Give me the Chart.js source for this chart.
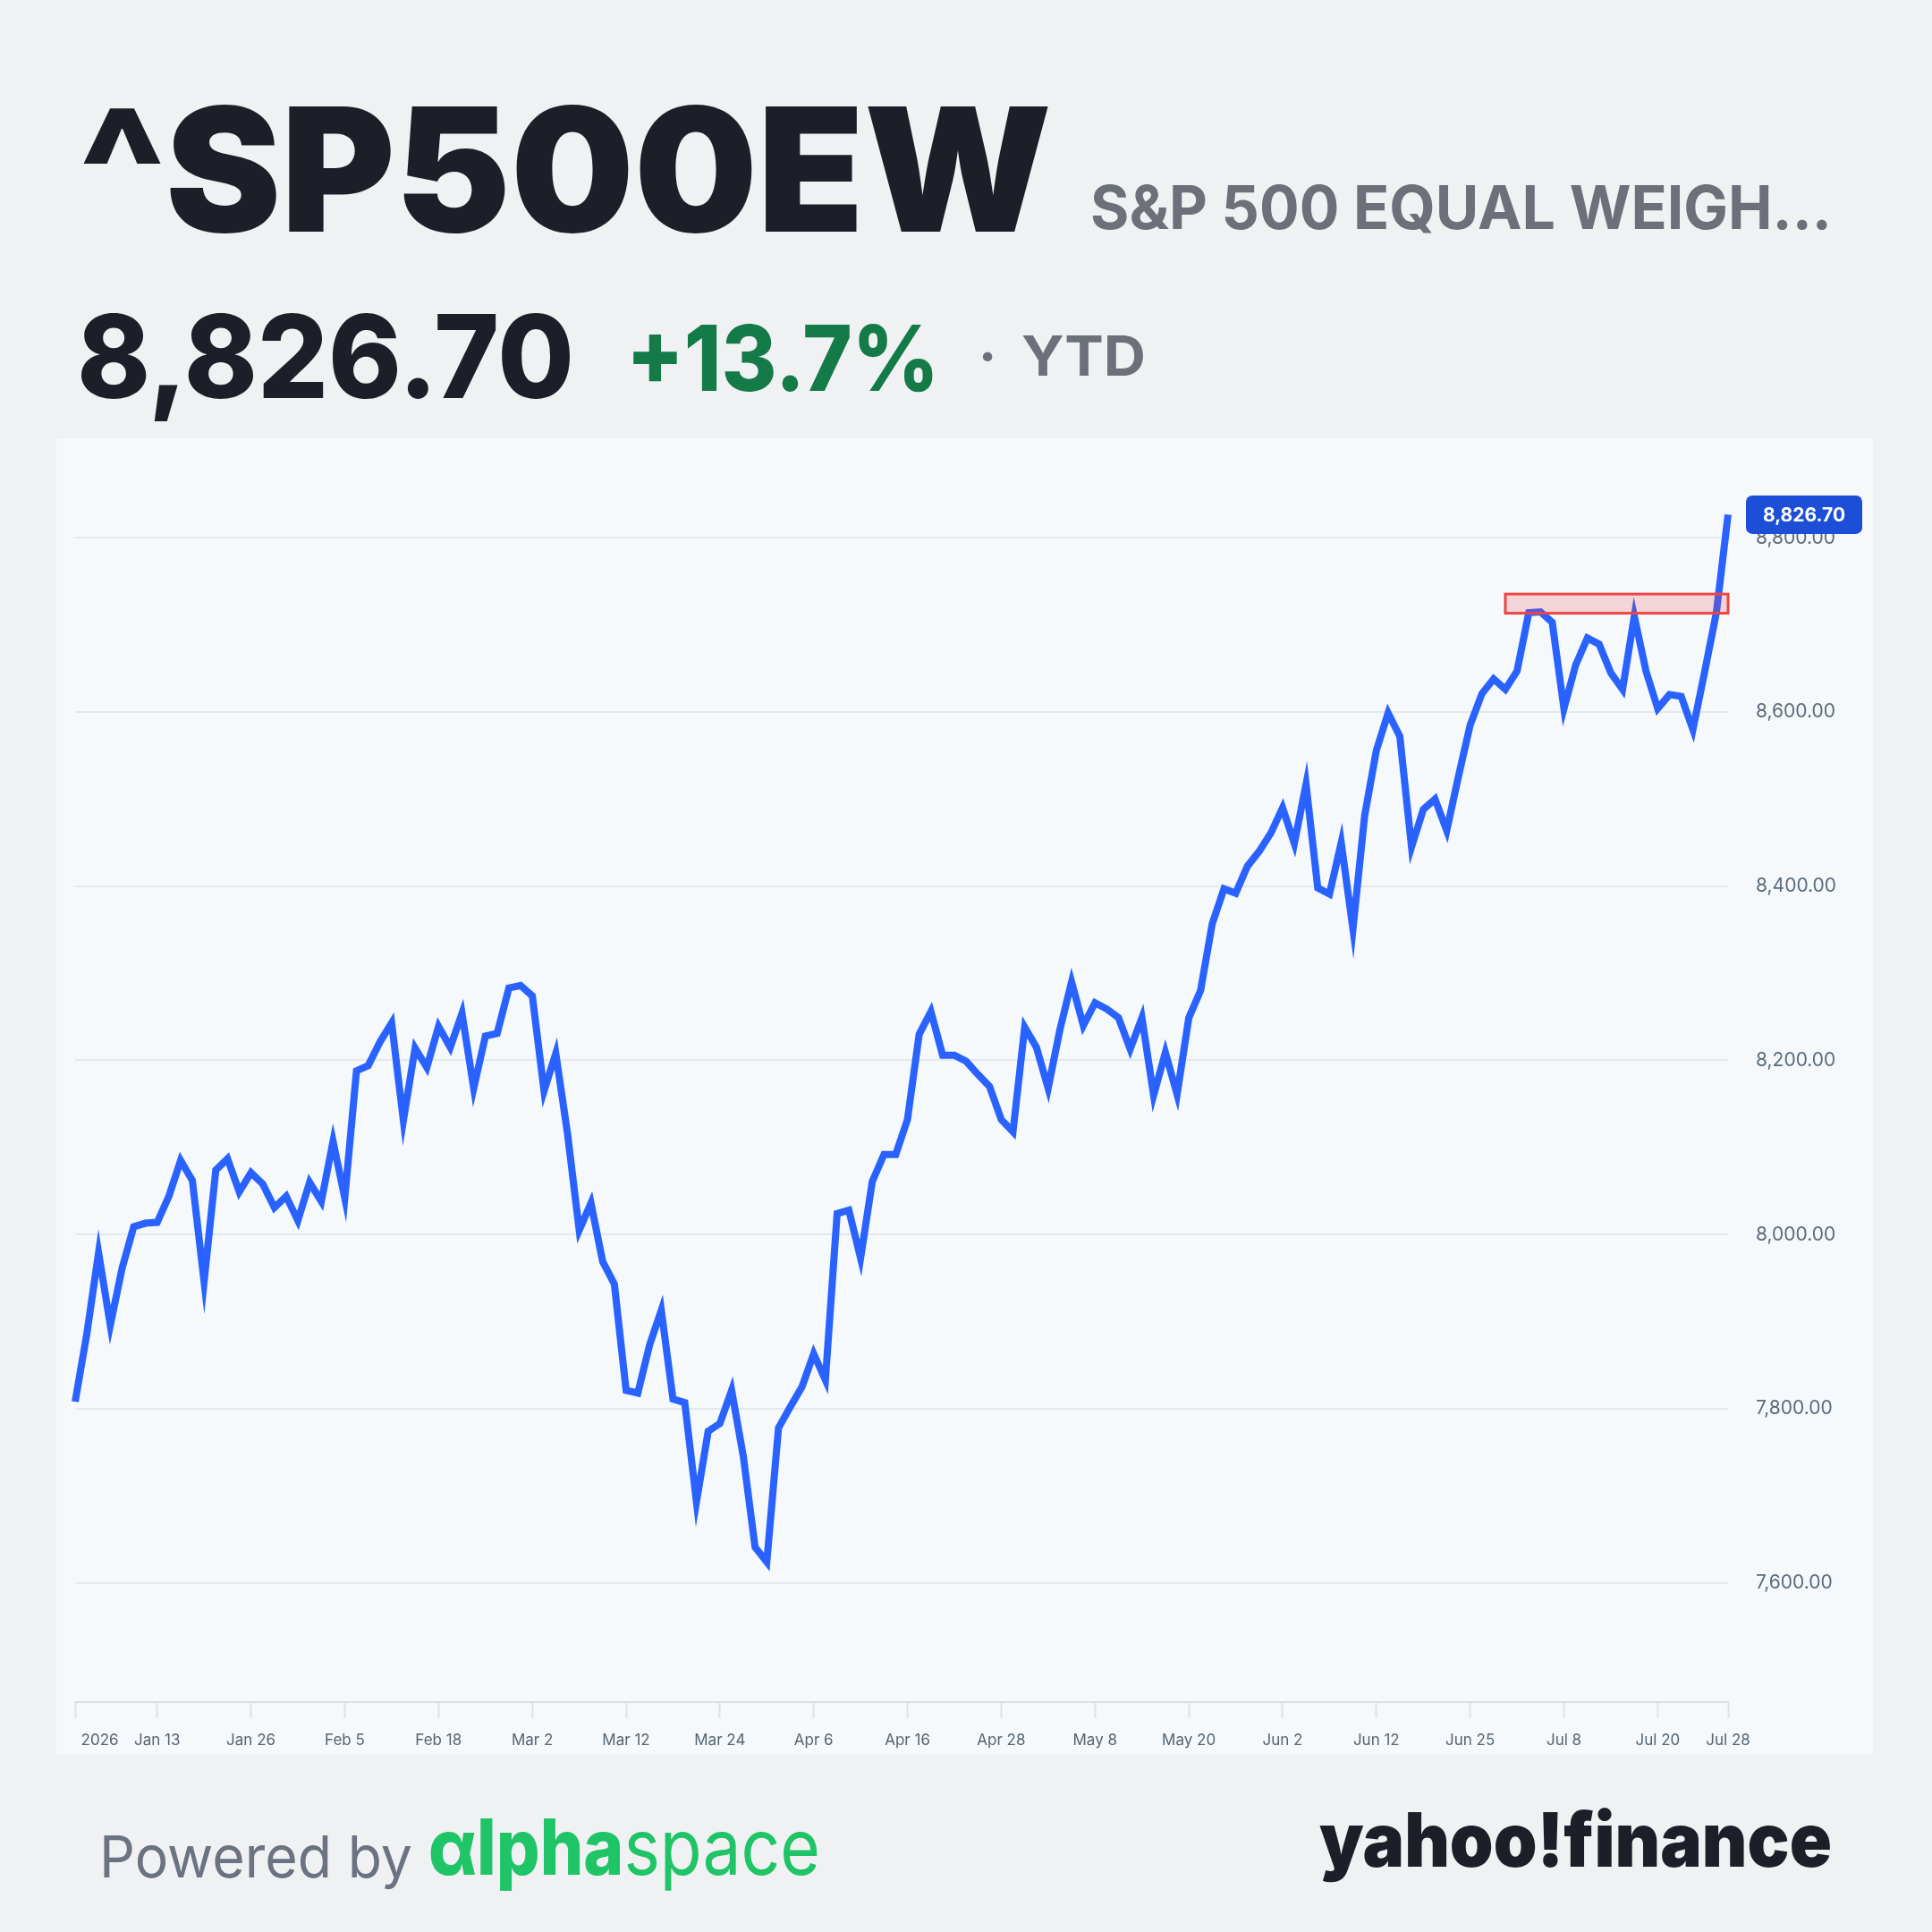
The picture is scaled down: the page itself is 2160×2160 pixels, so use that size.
<!DOCTYPE html>
<html>
<head>
<meta charset="utf-8">
<script src="https://cdn.jsdelivr.net/npm/chart.js@4.4.1/dist/chart.umd.min.js"></script>
<style>
  html, body { margin: 0; padding: 0; background: #f0f1f3; }
  #page { position: relative; width: 2160px; height: 2160px; overflow: hidden; background: #f0f1f3; }
  #panel { position: absolute; left: 63px; top: 490px; width: 2031px; height: 1472px; background: #f5f9fc; }
  #head { position: absolute; left: 0; top: 0; font-family: Inter, "Noto Sans", sans-serif; }
</style>
</head>
<body>
<div id="page">
  <svg id="head" width="2160" height="2160">
    <text x="88" y="259" font-size="192" font-weight="900" fill="#1c1f27" textLength="1088" lengthAdjust="spacingAndGlyphs">^SP500EW</text>
    <text x="1219" y="256" font-size="67" font-weight="700" fill="#6b7079" textLength="829" lengthAdjust="spacingAndGlyphs">S&amp;P 500 EQUAL WEIGH...</text>
    <text x="86" y="445" font-size="129" font-weight="800" fill="#1c1f27" textLength="556" lengthAdjust="spacingAndGlyphs">8,826.70</text>
    <text x="700" y="437" font-size="102" font-weight="800" fill="#137a48" textLength="350" lengthAdjust="spacingAndGlyphs">+13.7%</text>
    <text x="1104" y="420" font-size="62" font-weight="700" fill="#6b7079" text-anchor="middle">·</text>
    <text x="1142" y="420" font-size="62" font-weight="700" fill="#6b7079" textLength="139" lengthAdjust="spacingAndGlyphs">YTD</text>
    <text x="111" y="2099" font-size="65" font-weight="400" fill="#6b7280" textLength="350" lengthAdjust="spacingAndGlyphs">Powered by</text>
    <text x="479" y="2096" font-size="87" fill="#1fc467" textLength="438" lengthAdjust="spacingAndGlyphs"><tspan font-weight="800">αlpha</tspan><tspan font-weight="400">space</tspan></text>
    <text x="1475" y="2087" font-size="84" font-weight="900" fill="#1c1f27" textLength="573" lengthAdjust="spacingAndGlyphs">yahoo!finance</text>
  </svg>
  <div id="panel"><canvas id="priceChart" width="2031" height="1472"></canvas></div>
</div>
<script>
// trading calendar
var firstDay = '2026-01-02';
var lastDay = '2026-07-28';
var holidays = ['2026-01-19', '2026-02-16', '2026-04-03', '2026-05-25', '2026-06-19', '2026-07-03'];

// daily closes
var closes = [
  7808, 7886, 7979, 7896, 7961, 8009, 8013, 8014, 8044, 8085,
  8062, 7946, 8074, 8087, 8049, 8071, 8058, 8031, 8044, 8016,
  8060, 8038, 8107, 8042, 8188, 8194, 8221, 8243, 8131, 8214,
  8192, 8239, 8215, 8254, 8168, 8228, 8231, 8283, 8286, 8274,
  8165, 8208, 8116, 8005, 8036, 7969, 7943, 7821, 7818, 7873,
  7913, 7811, 7807, 7693, 7774, 7783, 7821, 7745, 7641, 7624,
  7778, 7802, 7825, 7863, 7833, 8024, 8028, 7973, 8061, 8092,
  8092, 8132, 8230, 8256, 8206, 8206, 8199, 8184, 8170, 8132,
  8118, 8238, 8215, 8168, 8235, 8290, 8240, 8266, 8259, 8249,
  8213, 8249, 8160, 8209, 8161, 8249, 8280, 8357, 8397, 8392,
  8423, 8440, 8461, 8490, 8449, 8517, 8398, 8391, 8450, 8351,
  8481, 8556, 8599, 8572, 8445, 8488, 8500, 8464, 8526, 8585,
  8621, 8638, 8626, 8647, 8714, 8715, 8703, 8604, 8654, 8685,
  8678, 8645, 8626, 8710, 8647, 8604, 8620, 8618, 8580, 8646,
  8714, 8826.70
];

var tickDates = ['2026-01-02', '2026-01-13', '2026-01-26', '2026-02-05', '2026-02-18', '2026-03-02',
  '2026-03-12', '2026-03-24', '2026-04-06', '2026-04-16', '2026-04-28', '2026-05-08', '2026-05-20',
  '2026-06-02', '2026-06-12', '2026-06-25', '2026-07-08', '2026-07-20', '2026-07-28'];
var yTicks = [7600, 7800, 8000, 8200, 8400, 8600, 8800];
var yMin = 7463;
var yMax = 8880.5;

// red resistance zone
var zoneStart = '2026-06-30';
var zoneEnd = '2026-07-28';
var zoneLow = 8713.5;
var zoneHigh = 8735.5;

var months = ['Jan', 'Feb', 'Mar', 'Apr', 'May', 'Jun', 'Jul', 'Aug', 'Sep', 'Oct', 'Nov', 'Dec'];

var dates = [];
var d = new Date(firstDay + 'T00:00:00Z');
var end = new Date(lastDay + 'T00:00:00Z');
while (d <= end) {
  var iso = d.toISOString().slice(0, 10);
  var wd = d.getUTCDay();
  if (wd !== 0 && wd !== 6 && holidays.indexOf(iso) < 0) dates.push(iso);
  d.setUTCDate(d.getUTCDate() + 1);
}

function fmtPrice(v) {
  return v.toLocaleString('en-US', { minimumFractionDigits: 2, maximumFractionDigits: 2 });
}

var overlay = {
  id: 'overlay',
  afterDatasetsDraw: function (chart) {
    var x = chart.scales.x, y = chart.scales.y, c = chart.ctx;
    var x0 = x.getPixelForValue(dates.indexOf(zoneStart));
    var x1 = x.getPixelForValue(dates.indexOf(zoneEnd));
    var y0 = y.getPixelForValue(zoneHigh);
    var y1 = y.getPixelForValue(zoneLow);
    c.save();
    c.fillStyle = 'rgba(239, 68, 68, 0.2)';
    c.fillRect(x0, y0, x1 - x0, y1 - y0);
    c.strokeStyle = '#ef4444';
    c.lineWidth = 3;
    c.strokeRect(x0, y0, x1 - x0, y1 - y0);
    c.restore();
  },
  afterDraw: function (chart) {
    var y = chart.scales.y, c = chart.ctx;
    var last = closes[closes.length - 1];
    var py = y.getPixelForValue(last);
    var bx = chart.chartArea.right + 20, bw = 130, bh = 43;
    c.save();
    c.fillStyle = '#1d4ed8';
    c.beginPath();
    c.roundRect(bx, py - bh / 2, bw, bh, 7);
    c.fill();
    c.fillStyle = '#ffffff';
    c.font = '700 21px Inter, "Noto Sans", sans-serif';
    c.textAlign = 'center';
    c.textBaseline = 'middle';
    c.fillText(fmtPrice(last), bx + bw / 2, py + 1);
    c.restore();
  }
};

var ctx = document.getElementById('priceChart').getContext('2d');
var priceChart = new Chart(ctx, {
  type: 'line',
  data: {
    labels: dates,
    datasets: [{
      label: '^SP500EW',
      data: closes,
      borderColor: '#2962ff',
      borderWidth: 8,
      pointRadius: 0,
      tension: 0,
      fill: false
    }]
  },
  options: {
    responsive: false,
    animation: false,
    layout: { padding: { left: 21, top: 33, right: 0, bottom: 0 } },
    plugins: {
      legend: { display: false },
      tooltip: { enabled: false }
    },
    scales: {
      x: {
        type: 'category',
        offset: false,
        afterBuildTicks: function (scale) {
          scale.ticks = tickDates.map(function (t) { return { value: dates.indexOf(t) }; });
        },
        afterFit: function (scale) {
          scale.height = 59;
          scale.paddingLeft = 0;
          scale.paddingRight = 0;
        },
        border: { display: true, color: '#d9dee3', width: 2 },
        grid: { drawOnChartArea: false, drawTicks: true, tickLength: 18, tickColor: '#dde2e7', tickWidth: 2 },
        ticks: {
          autoSkip: false,
          maxRotation: 0,
          padding: 15,
          color: '#56646f',
          font: { family: 'Inter, "Noto Sans", sans-serif', size: 17 },
          callback: function (value, index) {
            if (index === 0) return '\u2007\u2007\u2007\u2007\u2007' + dates[value].slice(0, 4);
            var p = dates[value].split('-');
            return months[+p[1] - 1] + ' ' + (+p[2]);
          }
        }
      },
      y: {
        type: 'linear',
        position: 'right',
        min: yMin,
        max: yMax,
        afterBuildTicks: function (scale) {
          scale.ticks = yTicks.map(function (v) { return { value: v }; });
        },
        afterFit: function (scale) {
          scale.width = 162;
          scale.paddingTop = 0;
          scale.paddingBottom = 0;
        },
        border: { display: false },
        grid: { color: '#e4e8ed', lineWidth: 2, drawTicks: false },
        ticks: {
          padding: 31,
          color: '#5c6b7a',
          font: { family: 'Inter, "Noto Sans", sans-serif', size: 21 },
          callback: function (v) { return fmtPrice(v); }
        }
      }
    }
  },
  plugins: [overlay]
});
</script>
</body>
</html>
